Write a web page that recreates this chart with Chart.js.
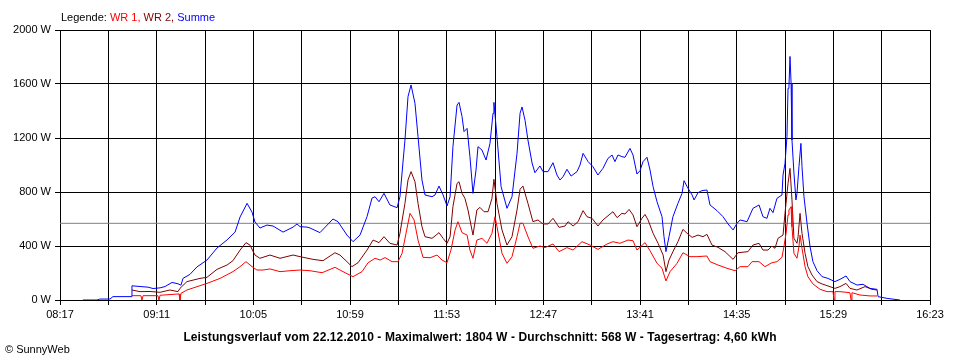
<!DOCTYPE html>
<html>
<head>
<meta charset="utf-8">
<script src="https://cdn.jsdelivr.net/npm/chart.js@4.4.1/dist/chart.umd.min.js"></script>
<style>
  html, body { margin: 0; padding: 0; background: #fff; }
  #wrap { position: relative; width: 960px; height: 360px; overflow: hidden; font-family: "Liberation Sans", Arial, sans-serif; }
  canvas { position: absolute; left: 0; top: 0; }
  .txt { position: absolute; white-space: nowrap; font-size: 11px; line-height: 12px; color: #000; }
  #legend { left: 61px; top: 11px; }
  #title { left: 0; width: 960px; text-align: center; top: 331px; font-weight: bold; font-size: 12px; letter-spacing: 0.1px; }
  #copy { left: 5px; top: 343px; }
</style>
</head>
<body>
<div id="wrap">
  <canvas id="c" width="960" height="360"></canvas>
  <div class="txt" id="legend">Legende: <span style="color:#ff0000">WR 1,</span> <span style="color:#800000">WR 2,</span> <span style="color:#0000ff">Summe</span></div>
  <div class="txt" id="title">Leistungsverlauf vom 22.12.2010 - Maximalwert: 1804 W - Durchschnitt: 568 W - Tagesertrag: 4,60 kWh</div>
  <div class="txt" id="copy">© SunnyWeb</div>
</div>
<script>
// x-axis tick labels (time of day)
const xTickLabels = ['08:17','09:11','10:05','10:59','11:53','12:47','13:41','14:35','15:29','16:23'];
// y-axis ticks (W)
const yTicks = [0, 400, 800, 1200, 1600, 2000];
const averageW = 568;

// Summe (minutes of day, W)
const sumTime = [509.8,517.7,519.3,524.9,526.6,536.7,537.2,541.7,546.2,549.0,552.9,555.7,559.6,562.9,564.6,565.7,569.6,573.5,579.1,584.7,590.3,594.8,597.6,601.5,604.3,605.9,608.7,612.6,616.0,621.6,627.2,629.4,631.1,635.0,636.7,642.2,649.5,652.3,657.3,660.7,664.6,668.5,671.3,673.0,675.2,678.0,681.3,685.3,686.9,689.7,691.4,693.1,695.3,697.0,699.2,700.9,704.8,706.5,708.7,711.0,713.2,714.9,716.5,718.8,719.9,721.6,722.7,724.4,726.0,727.7,729.4,730.5,732.7,735.0,737.2,738.9,739.4,741.1,743.4,746.7,749.5,752.3,754.0,755.1,756.8,758.4,760.7,762.3,765.1,766.8,769.6,772.4,774.6,776.3,778.0,780.2,782.5,785.8,787.5,789.2,792.0,794.7,797.5,800.3,803.1,805.4,807.0,808.7,810.9,812.6,815.4,817.1,819.3,821.0,822.7,824.9,826.6,828.3,830.5,833.3,834.4,835.5,837.2,839.4,842.2,844.5,845.6,847.3,850.1,851.2,853.4,855.6,858.4,860.1,864.0,867.4,870.2,873.0,875.2,876.9,880.8,884.1,887.5,889.7,891.9,893.6,895.3,897.5,900.3,900.9,902.0,903.1,903.7,904.2,904.8,905.4,905.9,907.0,908.1,908.7,909.8,910.9,911.5,912.6,914.3,916.0,917.6,919.9,922.7,926.0,929.9,932.7,936.1,938.3,942.2,945.6,949.5,953.4,954.0,959.0,966.2];
const sumWatt = [0,0,7,7,25,25,105,100,95,85,90,100,130,120,110,160,190,245,296,385,445,503,615,716,650,578,533,555,548,503,540,563,543,540,533,499,600,580,481,432,481,617,755,765,728,790,704,684,765,1185,1506,1593,1457,1210,889,778,765,778,844,778,696,765,1135,1444,1464,1358,1247,1271,1062,790,963,1136,1111,1037,1160,1383,1464,1210,840,679,765,1086,1383,1430,1330,1185,1015,943,993,951,951,1017,926,889,913,968,918,951,1000,1086,1025,988,926,975,1049,1074,1025,1074,1062,1057,1123,1074,933,958,1025,1057,963,840,728,617,469,358,469,617,716,790,884,840,778,741,795,810,815,704,662,617,563,519,568,593,580,679,704,617,605,679,647,753,778,926,1012,1210,1568,1580,1804,1605,1185,940,741,790,988,1160,988,765,568,395,284,217,173,160,136,153,178,136,111,116,86,79,25,12,0];

// WR 2 (minutes of day, W)
const wr2Time = [537.2,541.7,547.3,552.9,558.4,562.9,564.0,567.9,575.2,579.1,584.7,590.3,593.6,597.6,600.9,603.1,605.9,608.7,614.3,619.9,627.2,631.1,638.3,643.9,650.6,653.4,657.3,660.1,663.5,668.5,671.9,675.2,678.0,681.3,685.3,686.9,689.7,691.4,693.1,695.3,697.0,699.2,700.9,704.8,706.5,708.7,711.0,713.2,714.9,716.5,718.8,719.9,721.6,723.2,724.9,727.7,729.9,731.6,733.9,736.1,738.3,739.4,741.1,743.9,746.7,749.5,752.3,754.0,755.6,758.4,761.2,764.0,766.8,769.6,772.4,775.8,779.1,780.8,783.6,786.4,789.2,791.4,794.2,797.5,800.3,803.7,805.9,808.2,810.9,812.6,814.9,817.1,819.3,822.1,823.8,825.5,828.3,831.1,833.9,835.5,837.2,839.4,842.2,845.0,847.3,850.1,853.4,856.2,858.4,861.2,864.6,868.5,873.0,875.7,881.3,884.1,887.5,889.7,892.5,894.7,896.4,898.1,900.9,902.0,903.7,904.8,905.9,907.0,908.7,909.3,910.4,911.5,913.2,914.8,917.1,919.9,922.7,926.0,929.9,932.7,936.1,938.3,942.2,946.7,950.6,953.4];
const wr2Watt = [74,62,63,57,74,62,86,136,160,168,227,259,291,370,425,407,333,309,333,309,333,321,301,291,350,333,284,247,276,370,444,425,469,420,407,494,716,889,951,876,716,543,469,457,474,499,457,420,469,691,864,876,790,753,667,481,667,686,654,654,753,894,716,519,407,469,667,820,844,716,580,593,563,563,605,538,548,580,548,580,662,617,605,548,593,630,654,610,642,637,671,630,543,605,634,593,494,420,333,210,296,358,432,523,494,464,481,469,486,407,390,358,301,350,358,407,420,370,370,400,383,457,481,642,864,975,741,457,420,469,642,494,346,247,185,136,119,104,86,99,123,86,74,99,79,74];

// WR 1 (minutes of day, W)
const wr1Time = [537.2,542.2,542.8,543.4,551.7,552.3,552.9,563.5,564.0,564.6,567.9,579.1,586.4,593.6,597.6,600.9,604.3,607.0,610.4,614.3,619.9,625.5,631.1,636.7,643.4,650.6,655.1,660.7,665.7,669.1,673.0,675.8,678.6,682.5,685.8,688.1,690.3,692.5,694.8,697.0,699.8,703.7,707.6,710.4,713.2,715.4,717.7,719.3,721.6,724.4,726.0,727.7,729.9,732.7,735.5,738.3,740.0,741.1,743.9,746.7,749.5,752.3,754.0,755.6,758.4,761.2,765.1,767.9,772.4,775.8,780.2,783.6,788.6,793.1,797.5,802.6,805.9,809.8,814.3,817.1,819.3,823.8,826.6,830.5,833.3,835.5,837.8,841.7,845.0,848.9,852.8,858.4,860.1,864.6,869.6,874.1,876.9,881.3,883.6,887.5,890.8,894.7,897.5,900.3,901.4,902.6,903.7,904.2,905.4,905.9,907.0,908.7,909.8,910.4,911.5,913.2,914.8,917.6,921.6,925.5,928.8,929.4,929.9,932.7,938.3,938.9,939.4,943.9,949.5,953.4];
const wr1Watt = [32,32,0,32,32,0,35,45,0,49,74,123,160,210,247,284,247,222,222,230,210,217,222,217,202,242,210,173,210,276,309,296,314,284,284,346,494,642,593,444,316,313,333,296,276,370,519,580,499,481,370,309,444,457,420,494,617,543,346,272,321,469,568,568,469,383,400,388,415,358,388,370,432,407,375,415,432,420,444,439,370,425,365,272,235,141,210,272,350,321,321,326,284,259,235,217,247,247,284,284,247,276,284,316,395,494,630,667,691,543,346,309,395,481,383,247,173,119,79,62,62,0,62,62,54,0,54,37,30,30];

const xMin = 497, xMax = 983; // 08:17 .. 16:23

function toMin(s) { const p = s.split(':'); return (+p[0]) * 60 + (+p[1]); }
function fmt(m) { const h = Math.floor(m / 60), mm = Math.round(m - h * 60); return String(h).padStart(2, '0') + ':' + String(mm).padStart(2, '0'); }
const labelMins = xTickLabels.map(toMin);
const gridMins = [];
for (let i = 0; i < labelMins.length; i++) {
  gridMins.push(labelMins[i]);
  if (i < labelMins.length - 1) gridMins.push((labelMins[i] + labelMins[i + 1]) / 2);
}
const pts = (t, w) => t.map((v, i) => ({ x: v, y: w[i] }));

const lineDs = (label, t, w, color) => ({
  label, data: pts(t, w), borderColor: color, backgroundColor: color,
  borderWidth: 1, pointRadius: 0, tension: 0, fill: false
});

new Chart(document.getElementById('c'), {
  type: 'line',
  data: {
    datasets: [
      lineDs('Summe', sumTime, sumWatt, '#0000ff'),
      lineDs('WR 1', wr1Time, wr1Watt, '#ff0000'),
      lineDs('WR 2', wr2Time, wr2Watt, '#800000'),
      lineDs('Durchschnitt', [xMin, xMax], [averageW, averageW], '#808080')
    ]
  },
  options: {
    responsive: false,
    animation: false,
    events: [],
    layout: { padding: { top: 30, right: 30, left: 0, bottom: 0 } },
    plugins: { legend: { display: false }, tooltip: { enabled: false }, title: { display: false } },
    scales: {
      x: {
        type: 'linear', min: xMin, max: xMax,
        afterBuildTicks: (s) => { s.ticks = gridMins.map(v => ({ value: v })); },
        afterFit: (s) => { s.height = 60; },
        ticks: {
          autoSkip: false, maxRotation: 0, minRotation: 0, padding: 3,
          color: '#000', font: { family: '"Liberation Sans", Arial, sans-serif', size: 11 },
          callback: (v) => { const f = fmt(v); return xTickLabels.includes(f) ? f : ''; }
        },
        grid: { color: '#000', lineWidth: 1, tickLength: 5, drawOnChartArea: true },
        border: { display: true, color: '#000', width: 1 }
      },
      y: {
        min: 0, max: 2000,
        afterBuildTicks: (s) => { s.ticks = yTicks.map(v => ({ value: v })); },
        afterFit: (s) => { s.width = 60; },
        ticks: {
          padding: 4, color: '#000', font: { family: '"Liberation Sans", Arial, sans-serif', size: 11 },
          callback: (v) => v + ' W'
        },
        grid: { color: '#000', lineWidth: 1, tickLength: 5 },
        border: { display: true, color: '#000', width: 1 }
      }
    }
  }
});
</script>
</body>
</html>
